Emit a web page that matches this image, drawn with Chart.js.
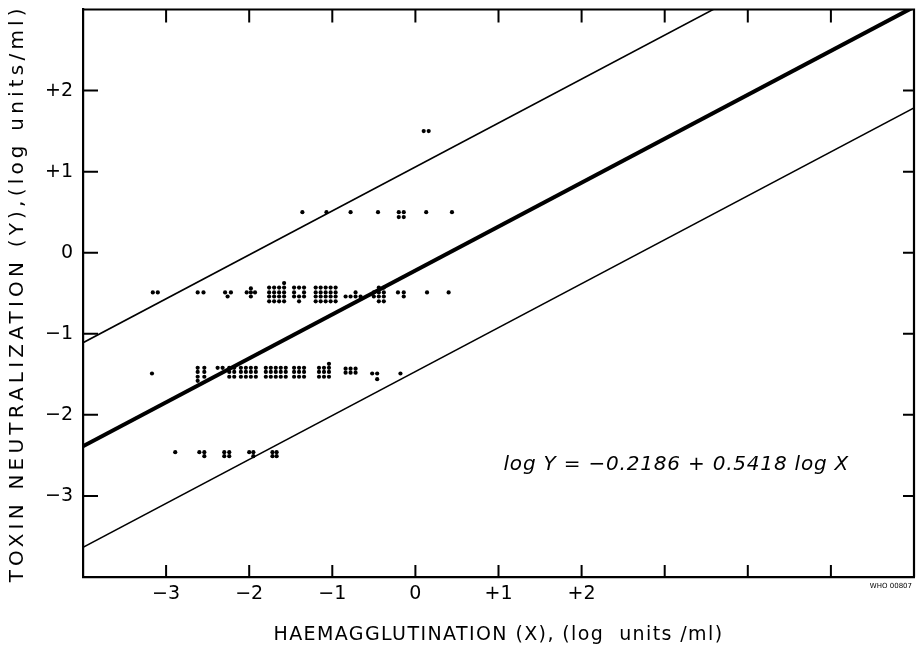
<!DOCTYPE html>
<html><head><meta charset="utf-8">
<script src="https://cdn.jsdelivr.net/npm/chart.js@4/dist/chart.umd.min.js"></script>
<style>html,body{margin:0;padding:0;background:#fff;} #wrap{width:918px;height:653px;position:relative;}</style>
</head><body><div id="wrap"><canvas id="c" width="918" height="653"></canvas></div>
<script>
// ---------- data (log units) ----------
const xTickValues = [-3, -2, -1, 0, 1, 2, 3, 4, 5];
const xTickLabels = ['\u22123', '\u22122', '\u22121', '0', '+1', '+2', '', '', ''];
const yTickValues = [-3, -2, -1, 0, 1, 2];
const yTickLabels = ['\u22123', '\u22122', '\u22121', '0', '+1', '+2'];
const xTitle = 'HAEMAGGLUTINATION (X), (log  units /ml)';
const yTitle = 'TOXIN NEUTRALIZATION (Y),(log units/ml)';
const equationLabel = 'log Y = \u22120.2186 + 0.5418 log X';
const plateCode = 'WHO 00807';

// observations, read row by row (each dot = one serum)
const rowPlus15 = [[0.10,1.50],[0.16,1.50]];
const rowPlus05 = [[-1.36,0.50],[-1.07,0.50],[-0.78,0.50],[-0.45,0.50],[-0.20,0.50],[-0.14,0.50],
  [-0.20,0.44],[-0.14,0.44],[0.13,0.50],[0.44,0.50]];
const rowMinus05 = [
  [-3.16,-0.49],[-3.10,-0.49],
  [-2.62,-0.49],[-2.55,-0.49],
  [-2.29,-0.49],[-2.22,-0.49],[-2.26,-0.54],
  [-1.98,-0.44],[-2.03,-0.49],[-1.98,-0.49],[-1.93,-0.49],[-1.98,-0.54],
  [-1.58,-0.375],
  [-1.76,-0.43],[-1.70,-0.43],[-1.64,-0.43],[-1.58,-0.43],
  [-1.76,-0.49],[-1.70,-0.49],[-1.64,-0.49],[-1.58,-0.49],
  [-1.76,-0.54],[-1.70,-0.54],[-1.64,-0.54],[-1.58,-0.54],
  [-1.76,-0.60],[-1.70,-0.60],[-1.64,-0.60],[-1.58,-0.60],
  [-1.46,-0.43],[-1.40,-0.43],[-1.34,-0.43],
  [-1.46,-0.49],[-1.34,-0.49],
  [-1.46,-0.54],[-1.40,-0.54],[-1.34,-0.54],
  [-1.40,-0.60],
  [-1.20,-0.43],[-1.14,-0.43],[-1.08,-0.43],[-1.02,-0.43],[-0.96,-0.43],
  [-1.20,-0.49],[-1.14,-0.49],[-1.08,-0.49],[-1.02,-0.49],[-0.96,-0.49],
  [-1.20,-0.54],[-1.14,-0.54],[-1.08,-0.54],[-1.02,-0.54],[-0.96,-0.54],
  [-1.20,-0.60],[-1.14,-0.60],[-1.08,-0.60],[-1.02,-0.60],[-0.96,-0.60],
  [-0.84,-0.54],[-0.78,-0.54],[-0.72,-0.49],[-0.72,-0.54],[-0.66,-0.54],
  [-0.44,-0.43],[-0.38,-0.43],
  [-0.50,-0.49],[-0.44,-0.49],[-0.38,-0.49],
  [-0.50,-0.54],[-0.44,-0.54],[-0.38,-0.54],
  [-0.44,-0.60],[-0.38,-0.60],
  [-0.21,-0.49],[-0.14,-0.49],[-0.14,-0.54],
  [0.14,-0.49],[0.40,-0.49]
];
const rowMinus15 = [
  [-3.17,-1.49],
  [-2.62,-1.42],[-2.54,-1.42],[-2.62,-1.47],[-2.54,-1.47],[-2.62,-1.53],[-2.54,-1.53],[-2.62,-1.58],
  [-2.38,-1.42],[-2.32,-1.42],[-2.24,-1.42],[-2.18,-1.42],
  [-2.24,-1.47],[-2.18,-1.47],[-2.24,-1.53],[-2.18,-1.53],
  [-2.10,-1.42],[-2.04,-1.42],[-1.98,-1.42],[-1.92,-1.42],
  [-2.10,-1.47],[-2.04,-1.47],[-1.98,-1.47],[-1.92,-1.47],
  [-2.10,-1.53],[-2.04,-1.53],[-1.98,-1.53],[-1.92,-1.53],
  [-1.80,-1.42],[-1.74,-1.42],[-1.68,-1.42],[-1.62,-1.42],[-1.56,-1.42],
  [-1.80,-1.47],[-1.74,-1.47],[-1.68,-1.47],[-1.62,-1.47],[-1.56,-1.47],
  [-1.80,-1.53],[-1.74,-1.53],[-1.68,-1.53],[-1.62,-1.53],[-1.56,-1.53],
  [-1.46,-1.42],[-1.40,-1.42],[-1.34,-1.42],
  [-1.46,-1.47],[-1.40,-1.47],[-1.34,-1.47],
  [-1.46,-1.53],[-1.40,-1.53],[-1.34,-1.53],
  [-1.04,-1.37],
  [-1.16,-1.42],[-1.10,-1.42],[-1.04,-1.42],
  [-1.16,-1.47],[-1.10,-1.47],[-1.04,-1.47],
  [-1.16,-1.53],[-1.10,-1.53],[-1.04,-1.53],
  [-0.84,-1.43],[-0.78,-1.43],[-0.72,-1.43],
  [-0.84,-1.48],[-0.78,-1.48],[-0.72,-1.48],
  [-0.52,-1.49],[-0.46,-1.49],[-0.46,-1.56],
  [-0.18,-1.49]
];
const rowMinus25 = [
  [-2.89,-2.46],
  [-2.60,-2.46],[-2.54,-2.46],[-2.54,-2.51],
  [-2.30,-2.46],[-2.24,-2.46],[-2.30,-2.51],[-2.24,-2.51],
  [-2.00,-2.46],[-1.95,-2.46],[-1.95,-2.51],
  [-1.72,-2.46],[-1.67,-2.46],[-1.72,-2.51],[-1.67,-2.51]
];

// fitted line  log Y = -0.2186 + 0.5418 log X  and its limits (end points)
const regressionLine = [[-4, -2.386], [6, 3.032]];
const upperLimit = [[-4, -1.11], [6, 4.31]];
const lowerLimit = [[-4, -3.635], [6, 1.786]];

// ---------- chart ----------
const toPts = arr => arr.map(([x, y]) => ({x, y}));
const allDots = [].concat(rowPlus15, rowPlus05, rowMinus05, rowMinus15, rowMinus25);
const FONT = '"DejaVu Sans", "Liberation Sans", sans-serif';

const spacedTitle = (scale, spacing) => {
  if (scale._spacedWrapped) return;
  const orig = scale.drawTitle;
  scale.drawTitle = function () {
    const ctx = this.ctx; ctx.save(); ctx.letterSpacing = spacing; orig.call(this); ctx.restore();
  };
  scale._spacedWrapped = true;
};

const zeroPad = s => { s.paddingTop = 0; s.paddingBottom = 0; s.paddingLeft = 0; s.paddingRight = 0; };

const framePlugin = {
  id: 'frame',
  beforeDraw(chart) {
    spacedTitle(chart.scales.x, '1.4px');
    spacedTitle(chart.scales.y, '4.2px');
  },
  afterDraw(chart) {
    const {ctx, chartArea: a, scales: {x, y}} = chart;
    ctx.save();
    ctx.strokeStyle = '#000';
    ctx.lineWidth = 2.2;
    ctx.beginPath();
    ctx.moveTo(a.left, a.top); ctx.lineTo(a.right, a.top); ctx.lineTo(a.right, a.bottom);
    ctx.stroke();
    ctx.lineWidth = 2;
    ctx.beginPath();
    x.ticks.forEach(t => {
      const px = x.getPixelForValue(t.value);
      ctx.moveTo(px, a.bottom); ctx.lineTo(px, a.bottom - 12);
      ctx.moveTo(px, a.top); ctx.lineTo(px, a.top + 13);
    });
    y.ticks.forEach(t => {
      const py = y.getPixelForValue(t.value);
      ctx.moveTo(a.left, py); ctx.lineTo(a.left + 15, py);
      ctx.moveTo(a.right, py); ctx.lineTo(a.right - 11, py);
    });
    ctx.stroke();
    // equation
    const o = chart.options.plugins.frame;
    ctx.fillStyle = '#000';
    ctx.font = 'italic 20px ' + FONT;
    ctx.letterSpacing = '0.8px';
    ctx.textAlign = 'left'; ctx.textBaseline = 'middle';
    ctx.fillText(o.equation, x.getPixelForValue(o.eqX), y.getPixelForValue(o.eqY));
    ctx.letterSpacing = '0px';
    ctx.font = '7px ' + FONT;
    ctx.textAlign = 'right'; ctx.textBaseline = 'middle';
    ctx.fillText(o.code, a.right - 2, a.bottom + 9);
    ctx.restore();
  }
};

new Chart(document.getElementById('c'), {
  type: 'scatter',
  data: {
    datasets: [
      {data: toPts(allDots), pointRadius: 2.1, pointBackgroundColor: '#000', pointBorderWidth: 0, showLine: false},
      {type: 'line', data: toPts(regressionLine), borderColor: '#000', borderWidth: 4, pointRadius: 0, clip: 0, fill: false},
      {type: 'line', data: toPts(upperLimit), borderColor: '#000', borderWidth: 1.6, pointRadius: 0, clip: 0, fill: false},
      {type: 'line', data: toPts(lowerLimit), borderColor: '#000', borderWidth: 1.6, pointRadius: 0, clip: 0, fill: false}
    ]
  },
  options: {
    responsive: false,
    animation: false,
    layout: {padding: {top: 9.5, right: 1, left: 0, bottom: 0}},
    plugins: {
      legend: {display: false},
      tooltip: {enabled: false},
      frame: {equation: equationLabel, eqX: 1.06, eqY: -2.61, code: plateCode}
    },
    scales: {
      x: {
        type: 'linear', position: 'bottom', min: -4, max: 6,
        afterBuildTicks: s => { s.ticks = xTickValues.map(v => ({value: v})); },
        afterFit: s => { s.height = 76; zeroPad(s); },
        ticks: {
          autoSkip: false, maxRotation: 0, padding: 6, color: '#000',
          font: {family: FONT, size: 19},
          callback: v => xTickLabels[xTickValues.indexOf(v)] ?? ''
        },
        grid: {drawOnChartArea: false, drawTicks: false},
        border: {display: true, color: '#000', width: 2.2},
        title: {display: true, text: xTitle, color: '#000', font: {family: FONT, size: 19}, padding: {top: 0, bottom: 7}}
      },
      y: {
        type: 'linear', position: 'left', min: -4, max: 3,
        afterBuildTicks: s => { s.ticks = yTickValues.map(v => ({value: v})); },
        afterFit: s => { s.width = 83; zeroPad(s); },
        ticks: {
          autoSkip: false, padding: 10, color: '#000',
          font: {family: FONT, size: 19},
          callback: v => yTickLabels[yTickValues.indexOf(v)] ?? ''
        },
        grid: {drawOnChartArea: false, drawTicks: false},
        border: {display: true, color: '#000', width: 2.2},
        title: {display: true, text: yTitle, color: '#000', font: {family: FONT, size: 20}, padding: {top: 6, bottom: 0}}
      }
    }
  },
  plugins: [framePlugin]
});
</script>
</body></html>
